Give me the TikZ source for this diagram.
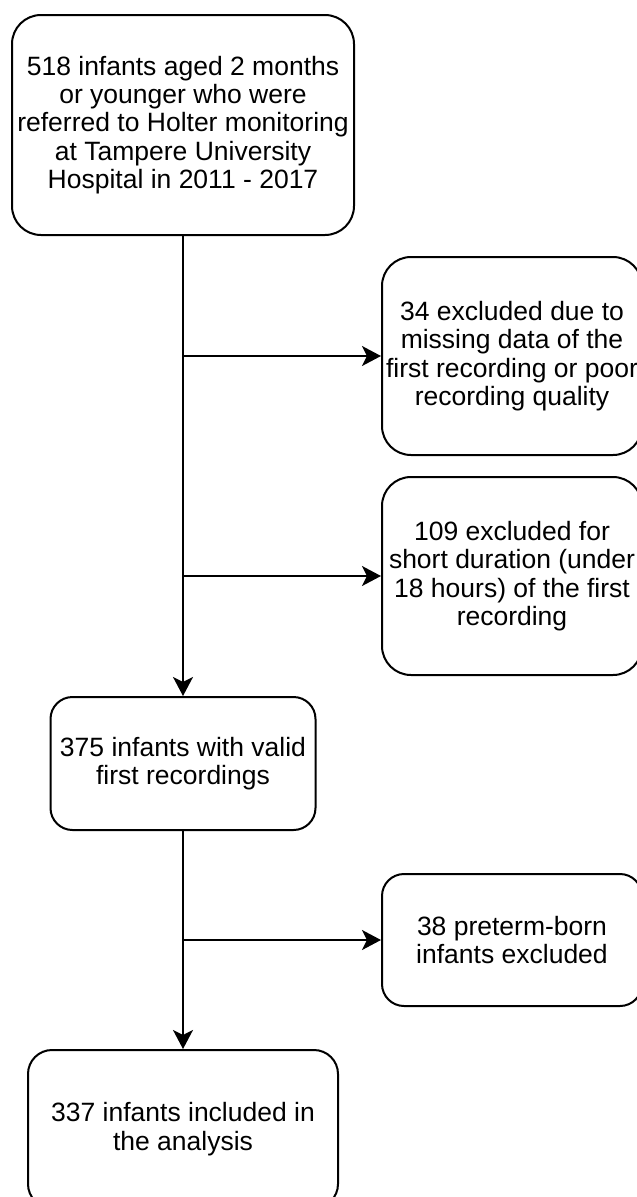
\documentclass[tikz,border=0pt]{standalone}
\usepackage{fontspec}
\setmainfont{Liberation Sans}
\usetikzlibrary{arrows.meta}
\tikzset{
  flowbox/.style={draw=black, line width=2pt, fill=white, align=center, inner sep=0pt,
    font=\fontsize{26.5}{28.4}\selectfont},
  arr/.style={draw=black, line width=2pt, -{Stealth[length=19pt,width=20pt,inset=5pt]}}
}
\begin{document}
\begin{tikzpicture}[x=1pt,y=-1pt]
\useasboundingbox (0,0) rectangle (637,1197);
\node[flowbox, rounded corners=29pt, minimum width=342pt, minimum height=220pt] (b1) at (183,125)
  {518 infants aged 2 months\\or younger who were\\referred to Holter monitoring\\at Tampere University\\Hospital in 2011 - 2017};
\node[flowbox, rounded corners=29pt, minimum width=260pt, minimum height=198pt] (b2) at (512,356)
  {34 excluded due to\\missing data of the\\first recording or poor\\recording quality};
\node[flowbox, rounded corners=29pt, minimum width=260pt, minimum height=198pt] (b3) at (512,576)
  {109 excluded for\\short duration (under\\18 hours) of the first\\recording};
\node[flowbox, rounded corners=22pt, minimum width=265pt, minimum height=133pt] (b4) at (183,763.5)
  {375 infants with valid\\first recordings};
\node[flowbox, rounded corners=22pt, minimum width=260pt, minimum height=132pt] (b5) at (512,940)
  {38 preterm-born\\infants excluded};
\node[flowbox, rounded corners=24pt, minimum width=310pt, minimum height=158pt] (b6) at (183,1129)
  {337 infants included in\\the analysis};
\draw[arr] (b1.south) -- (b4.north);
\draw[arr] (b4.south) -- (b6.north);
\draw[arr] (b1.south |- b2.west) -- (b2.west);
\draw[arr] (b1.south |- b3.west) -- (b3.west);
\draw[arr] (b4.south |- b5.west) -- (b5.west);
\end{tikzpicture}
\end{document}
